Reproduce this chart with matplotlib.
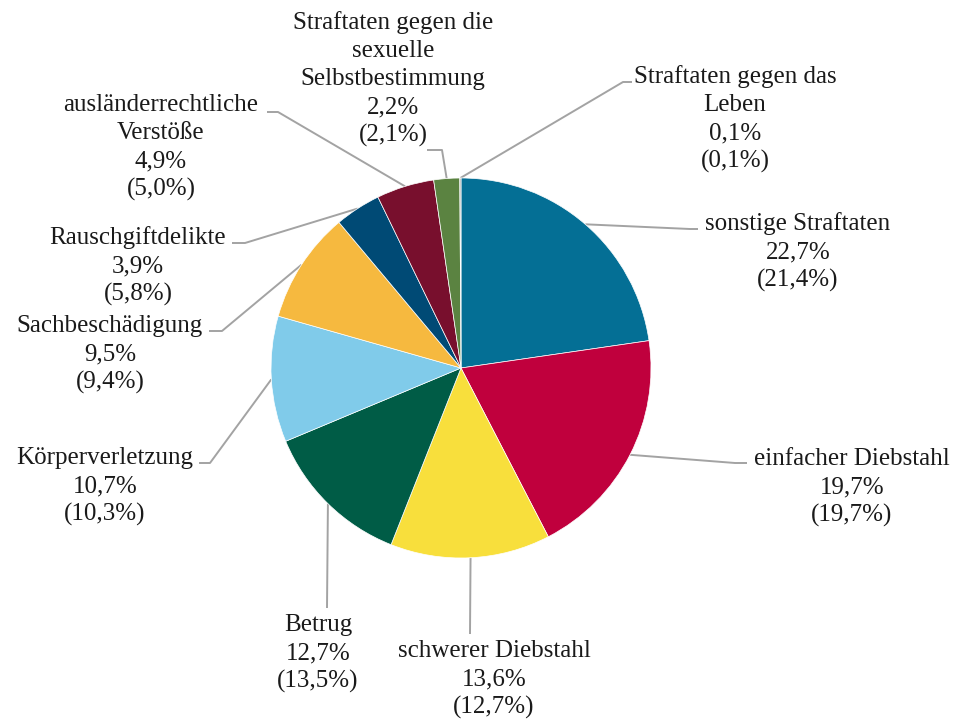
import numpy as np
import matplotlib
matplotlib.use("Agg")
import matplotlib.pyplot as plt

# data, clockwise from 12 o'clock
categories = ["sonstige Straftaten", "einfacher Diebstahl", "schwerer Diebstahl", "Betrug",
              "Körperverletzung", "Sachbeschädigung", "Rauschgiftdelikte",
              "ausländerrechtliche\nVerstöße", "Straftaten gegen die\nsexuelle\nSelbstbestimmung",
              "Straftaten gegen das\nLeben"]
share = [22.7, 19.7, 13.6, 12.7, 10.7, 9.5, 3.9, 4.9, 2.2, 0.1]
share_prev = [21.4, 19.7, 12.7, 13.5, 10.3, 9.4, 5.8, 5.0, 2.1, 0.1]
colors = ["#046f95", "#c0003d", "#f8df3c", "#005c46", "#80cbea", "#f6b93f",
          "#004a75", "#780f2d", "#5b8341", "#9a9a9a"]

# label layout in pixel coords: text centre x, first line y, leader elbow + end
text_pos = [(798, 224), (852, 459), (494, 651), (318, 625), (105, 458), (110, 326),
            (138, 238), (161, 105), (393, 23), (735, 77)]
elbows = [[(690, 229), (698, 229)], [(735, 463), (747, 463)], [(470, 634)], [(327, 608)],
          [(210, 463), (199, 463)], [(222, 331), (209, 331)], [(245, 243), (232, 243)],
          [(278, 112), (267, 112)], [(442, 150), (427, 150)], [(623, 82), (632, 82)]]
LINE_H = 28

plt.rcParams["font.family"] = ["Liberation Serif", "DejaVu Serif"]
fig = plt.figure(figsize=(9.54, 7.2), dpi=100)
ax = fig.add_axes([0, 0, 1, 1])

cx, cy, r = 461, 368, 190
wedges, _ = ax.pie(share, colors=colors, startangle=-90, counterclock=True,
                   center=(cx, cy), radius=r,
                   wedgeprops=dict(edgecolor="white", linewidth=0.5))
ax.set_xlim(0, 954)
ax.set_ylim(720, 0)
ax.set_aspect("equal")
ax.axis("off")

fmt = lambda v: f"{v:.1f}".replace(".", ",") + "%"
for w, name, s, sp, (tx, ty), pts in zip(wedges, categories, share, share_prev, text_pos, elbows):
    mid = np.deg2rad((w.theta1 + w.theta2) / 2)
    x0, y0 = cx + r * np.cos(mid), cy + r * np.sin(mid)
    xs = [x0] + [p[0] for p in pts]
    ys = [y0] + [p[1] for p in pts]
    ax.plot(xs, ys, color="#a3a3a3", lw=1.4, solid_capstyle="butt", zorder=0)
    lines = name.split("\n") + [fmt(s), "(" + fmt(sp) + ")"]
    for k, line in enumerate(lines):
        ax.text(tx, ty + k * LINE_H, line, ha="center", va="center",
                fontsize=18, color="#1a1a1a")

fig.savefig("out.png", dpi=100)
